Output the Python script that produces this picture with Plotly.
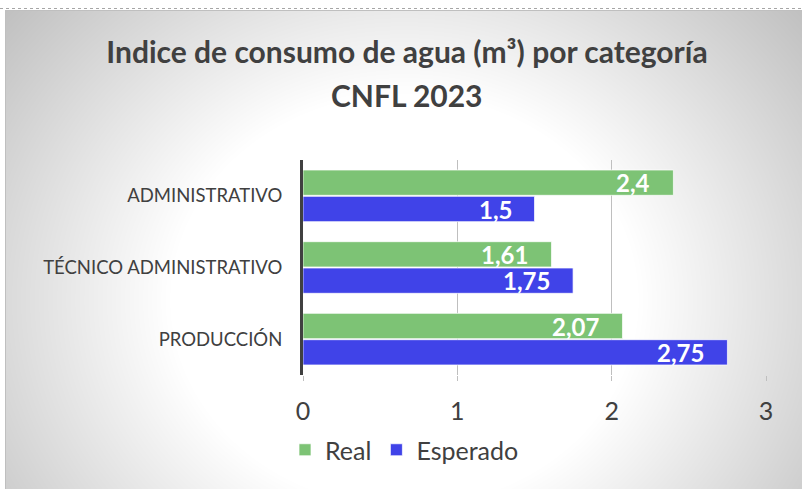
import base64, struct, zlib
import numpy as np
import plotly.graph_objects as go

categories = ["ADMINISTRATIVO", "TÉCNICO ADMINISTRATIVO", "PRODUCCIÓN"]
real = [2.4, 1.61, 2.07]
esperado = [1.5, 1.75, 2.75]
real_labels = ["2,4", "1,61", "2,07"]
esperado_labels = ["1,5", "1,75", "2,75"]
x_ticks = [0, 1, 2, 3]
title_line1 = "Indice de consumo de agua (m³) por categoría"
title_line2 = "CNFL 2023"

W, H = 802, 489
PL, PR, PT, PB = 303, 766, 160, 375  # plot area in pixels
pw, ph = PR - PL, PB - PT

def px_x(X):
    return (X - PL) / pw

def px_y(Y):
    return (PB - Y) / ph

# radial-gradient background (chart area) as a PNG
bx0, by0, bx1, by1 = 5, 10, 802, 489
bw, bh = bx1 - bx0, by1 - by0
yy, xx = np.mgrid[0:bh, 0:bw]
Xs = xx + bx0
Ys = yy + by0
d = np.sqrt(((Xs - 404) / 669.0) ** 2 + ((Ys - 300) / 590.0) ** 2)
g = 255 - 148 * np.clip(d - 0.35, 0, None)
g = np.clip(g, 190, 255).astype(np.uint8)

def png_gray(arr):
    h, w = arr.shape
    raw = b"".join(b"\x00" + arr[i].tobytes() for i in range(h))
    def chunk(t, data):
        c = struct.pack(">I", len(data)) + t + data
        return c + struct.pack(">I", zlib.crc32(t + data) & 0xFFFFFFFF)
    ihdr = struct.pack(">IIBBBBB", w, h, 8, 0, 0, 0, 0)
    return (b"\x89PNG\r\n\x1a\n" + chunk(b"IHDR", ihdr)
            + chunk(b"IDAT", zlib.compress(raw, 9)) + chunk(b"IEND", b""))

img_uri = "data:image/png;base64," + base64.b64encode(png_gray(g)).decode()

GREEN = "#7DC375"
BLUE = "#4043E8"
TXT = "#404040"
FONT = "Lato"

fig = go.Figure()
fig.add_trace(go.Bar(
    y=categories, x=real, name="Real", orientation="h",
    marker=dict(color=GREEN, line=dict(color="rgba(255,255,255,0.7)", width=1)),
))
fig.add_trace(go.Bar(
    y=categories, x=esperado, name="Esperado", orientation="h",
    marker=dict(color=BLUE, line=dict(color="rgba(255,255,255,0.7)", width=1)),
))

bargap = 0.265
half = (1 - bargap) / 4.0  # offset of each bar centre from category centre (data units)
annotations = []
for i, cat in enumerate(categories):
    for val, lab, off in ((real[i], real_labels[i], -half), (esperado[i], esperado_labels[i], half)):
        annotations.append(dict(
            x=val, y=i + off, xref="x", yref="y", text=lab, showarrow=False,
            xanchor="right", yanchor="middle", xshift=-21,
            font=dict(family=FONT, size=24, color="white", weight="bold"),
        ))

annotations.append(dict(
    text=title_line2, xref="paper", yref="paper",
    x=px_x(407), y=px_y(95), xanchor="center", yanchor="middle", showarrow=False,
    font=dict(family=FONT, size=30, color=TXT, weight="bold"),
))

fig.update_layout(
    width=W, height=H,
    margin=dict(l=PL, r=W - PR, t=PT, b=H - PB),
    paper_bgcolor="white",
    plot_bgcolor="rgba(0,0,0,0)",
    barmode="group", bargap=bargap, bargroupgap=0.04,
    title=dict(
        text=title_line1,
        x=407 / W, xanchor="center", xref="container",
        y=1 - 52 / H, yanchor="middle", yref="container",
        font=dict(family=FONT, size=30, color=TXT, weight="bold"),
    ),
    xaxis=dict(
        range=[0, 3], tickvals=x_ticks, ticktext=[str(t) for t in x_ticks],
        showgrid=True, gridcolor="#BFBFBF", gridwidth=1,
        zeroline=False, showline=False,
        ticks="outside", ticklen=5, tickcolor="#BFBFBF",
        ticklabelstandoff=9,
        tickfont=dict(family=FONT, size=25, color=TXT),
    ),
    yaxis=dict(
        type="category", range=[2.5, -0.5],
        showgrid=False, zeroline=False,
        showline=True, linecolor="#404040", linewidth=3,
        ticks="", ticklabelstandoff=14,
        tickfont=dict(family=FONT, size=18.5, color=TXT),
    ),
    legend=dict(
        orientation="h", x=px_x(285), xanchor="left", y=px_y(450), yanchor="middle",
        font=dict(family=FONT, size=25, color=TXT), bgcolor="rgba(0,0,0,0)",
        itemclick=False,
    ),
    images=[dict(
        source=img_uri, xref="paper", yref="paper",
        x=px_x(bx0), y=px_y(by0), sizex=bw / pw, sizey=bh / ph,
        xanchor="left", yanchor="top", sizing="stretch", layer="below",
    )],
    shapes=[
        dict(type="rect", xref="paper", yref="paper",
             x0=px_x(bx0 + 0.5), x1=px_x(bx1 + 5), y0=px_y(by1 + 5), y1=px_y(by0 + 0.5),
             line=dict(color="#BFBFBF", width=1), layer="above"),
        dict(type="line", xref="paper", yref="paper",
             x0=px_x(0), x1=px_x(W), y0=px_y(8.5), y1=px_y(8.5),
             line=dict(color="#A6A6A6", width=1, dash="dot")),
    ],
    annotations=annotations,
    showlegend=True,
)

fig.write_html("out.html", config={"displayModeBar": False},
               post_script="document.body.style.margin='0px';")
